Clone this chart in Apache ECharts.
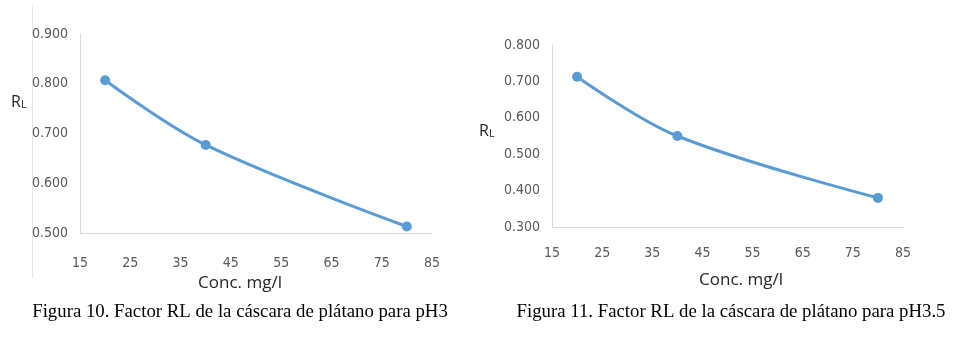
<!DOCTYPE html>
<html>
<head>
<meta charset="utf-8">
<script src="https://cdn.jsdelivr.net/npm/echarts@6/dist/echarts.min.js"></script>
<style>
  html, body { margin: 0; padding: 0; background: #ffffff; }
  #chart { width: 967px; height: 338px; }
</style>
</head>
<body>
<div id="chart"></div>
<script>
// Separation factor RL of banana peel at two pH values
const concentrations = [20, 40, 80];
const rlPH3 = [0.807, 0.677, 0.513];
const rlPH35 = [0.713, 0.550, 0.380];
const xTicks = [15, 25, 35, 45, 55, 65, 75, 85];
const captionPH3 = 'Figura 10. Factor RL de la cáscara de plátano para pH3';
const captionPH35 = 'Figura 11. Factor RL de la cáscara de plátano para pH3.5';
const xTitle = 'Conc. mg/l';

const lineColor = '#5b9bd5';
const axisColor = '#d9d9d9';
const labelColor = '#595959';
const tickFont = '"Liberation Sans Narrow", "DejaVu Sans Condensed", "Liberation Sans", sans-serif';
const titleFont = '"Open Sans", "Noto Sans", sans-serif';
const captionFont = '"Liberation Serif", "Times New Roman", serif';

function pairs(xs, ys) { return xs.map((x, i) => [x, ys[i]]); }

function xAxis(gridIndex, margin) {
  return {
    type: 'value', gridIndex, min: xTicks[0], max: xTicks[xTicks.length - 1], interval: 10,
    axisLine: { show: true, lineStyle: { color: axisColor, width: 1 } },
    axisTick: { show: false },
    splitLine: { show: false },
    axisLabel: { color: labelColor, fontFamily: tickFont, fontSize: 14, margin }
  };
}
function yAxis(gridIndex, min, max) {
  return {
    type: 'value', gridIndex, min, max, interval: 0.1,
    axisLine: { show: true, lineStyle: { color: axisColor, width: 1 } },
    axisTick: { show: false },
    splitLine: { show: false },
    axisLabel: { color: labelColor, fontFamily: tickFont, fontSize: 14, margin: 12,
      formatter: v => v.toFixed(3) }
  };
}
function series(idx, data) {
  return {
    type: 'line', xAxisIndex: idx, yAxisIndex: idx, data, smooth: 0.35,
    symbol: 'circle', symbolSize: 10,
    lineStyle: { color: lineColor, width: 3 },
    itemStyle: { color: lineColor },
    silent: true, animation: false
  };
}
function rl(x, y) {
  return {
    type: 'text', left: x, top: y,
    style: { text: '{r|R}{s|L}', rich: {
      r: { fontFamily: titleFont, fontSize: 16, fill: '#262626', verticalAlign: 'bottom' },
      s: { fontFamily: titleFont, fontSize: 11, fill: '#262626', padding: [9, 0, 0, 0], verticalAlign: 'bottom' }
    } }
  };
}
function centered(text, cx, cy, font, size, color) {
  return {
    type: 'text', x: cx, y: cy,
    style: { text, fontFamily: font, fontSize: size, fill: color, align: 'center', verticalAlign: 'middle' }
  };
}

const chart = echarts.init(document.getElementById('chart'), null, { renderer: 'canvas' });
chart.setOption({
  backgroundColor: '#ffffff',
  animation: false,
  grid: [
    { left: 80, top: 34, width: 352, height: 199 },
    { left: 552, top: 45, width: 351, height: 182 }
  ],
  xAxis: [xAxis(0, 23), xAxis(1, 19)],
  yAxis: [yAxis(0, 0.5, 0.9), yAxis(1, 0.3, 0.8)],
  series: [series(0, pairs(concentrations, rlPH3)), series(1, pairs(concentrations, rlPH35))],
  graphic: [
    { type: 'line', shape: { x1: 32.5, y1: 5, x2: 32.5, y2: 278 }, style: { stroke: '#e6e6e6', lineWidth: 1 } },
    rl(11, 94),
    rl(479, 123),
    centered(xTitle, 240, 283, titleFont, 17, '#262626'),
    centered(xTitle, 741, 280, titleFont, 17, '#262626'),
    centered(captionPH3, 240, 312, captionFont, 18.8, '#000000'),
    centered(captionPH35, 731, 312, captionFont, 18.8, '#000000')
  ]
});
</script>
</body>
</html>
